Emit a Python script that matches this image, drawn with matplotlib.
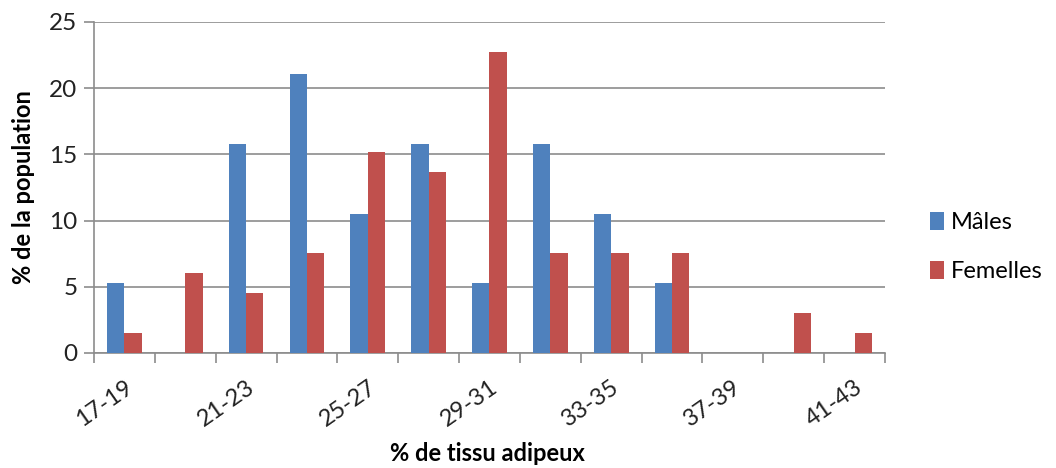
import numpy as np
import matplotlib
matplotlib.use("Agg")
import matplotlib.pyplot as plt
from matplotlib.ticker import FixedLocator

plt.rcParams["font.family"] = ["Lato", "DejaVu Sans"]

# tranches de % de tissu adipeux
tranches = ["17-19", "19-21", "21-23", "23-25", "25-27", "27-29", "29-31",
            "31-33", "33-35", "35-37", "37-39", "39-41", "41-43"]
males = [5.26, 0, 15.79, 21.05, 10.53, 15.79, 5.26, 15.79, 10.53, 5.26, 0, 0, 0]
femelles = [1.52, 6.06, 4.55, 7.58, 15.15, 13.64, 22.73, 7.58, 7.58, 7.58, 0, 3.03, 1.52]

BLEU = "#4F81BD"
ROUGE = "#C0504D"
GRIS = "#8C8C8C"

fig = plt.figure(figsize=(10.56, 4.68), dpi=100)
ax = fig.add_axes([0.089, 0.246, 0.749, 0.707])

x = np.arange(len(tranches))
larg = 1 / 3.5
ax.bar(x - larg / 2, males, width=larg, color=BLEU, label="Mâles", zorder=3)
ax.bar(x + larg / 2, femelles, width=larg, color=ROUGE, label="Femelles", zorder=3)

ax.set_xlim(-0.5, len(tranches) - 0.5)
ax.set_ylim(0, 25)
ax.set_yticks(range(0, 26, 5))
ax.yaxis.grid(True, color=GRIS, linewidth=1.2, zorder=0)

# étiquettes une tranche sur deux, graduations aux limites des classes
ax.set_xticks(x[::2])
ax.set_xticklabels(tranches[::2], rotation=35, ha="right", va="top",
                   rotation_mode="anchor")
ax.xaxis.set_minor_locator(FixedLocator(np.arange(-0.5, len(tranches), 1)))
ax.tick_params(axis="x", which="major", length=0, pad=17, labelsize=17,
               labelcolor="#222222")
ax.tick_params(axis="x", which="minor", length=7, width=1.2, color=GRIS,
               direction="out")
ax.tick_params(axis="y", length=7, width=1.2, color=GRIS, labelsize=17.5,
               labelcolor="#222222", pad=5)

for s in ["top", "right"]:
    ax.spines[s].set_visible(False)
for s in ["left", "bottom"]:
    ax.spines[s].set_color(GRIS)
    ax.spines[s].set_linewidth(1.2)

# titre de l'axe x placé sous les étiquettes inclinées
fig.text(0.462, 0.016, "% de tissu adipeux", fontsize=17, fontweight="bold",
         ha="center", va="baseline")
ax.set_ylabel("% de la population", fontsize=17, fontweight="bold", labelpad=10)

ax.legend(loc="center left", bbox_to_anchor=(1.03, 0.32), frameon=False,
          fontsize=17, handlelength=0.6, handleheight=0.8, handletextpad=0.3,
          labelspacing=1.2)

fig.savefig("out.png", dpi=100)
